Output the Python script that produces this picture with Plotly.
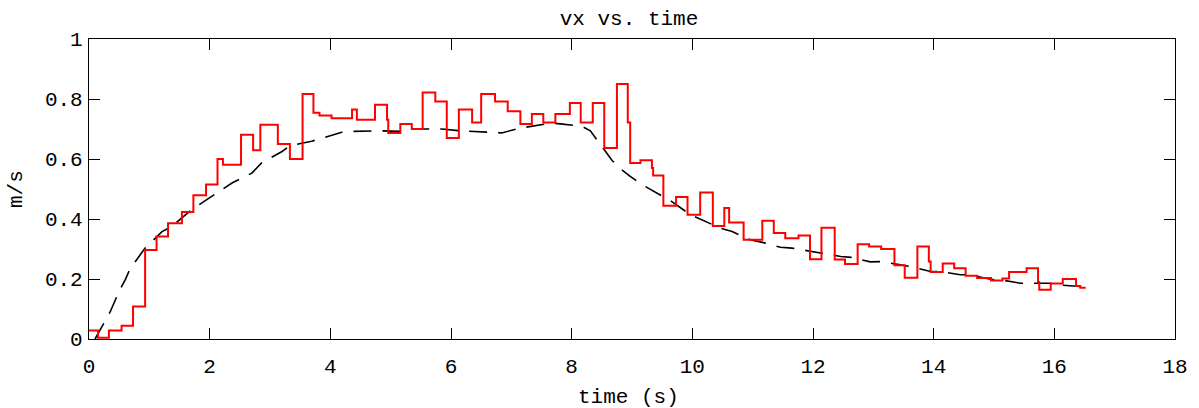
import plotly.graph_objects as go

# Measured velocity (step plot): times at which each step starts, and its value
meas_t = [0.00, 0.15, 0.33, 0.54, 0.73, 0.93, 1.12, 1.31, 1.54, 1.73, 1.94, 2.13, 2.22,
          2.52, 2.72, 2.84, 3.13, 3.33, 3.54, 3.72, 3.82, 4.02, 4.36, 4.44, 4.74, 4.94,
          4.96, 5.16, 5.35, 5.53, 5.74, 5.93, 6.13, 6.35, 6.50, 6.73, 6.94, 7.15, 7.34,
          7.53, 7.73, 7.97, 8.15, 8.35, 8.54, 8.75, 8.93, 8.97, 9.14, 9.33, 9.35, 9.52,
          9.73, 9.92, 10.13, 10.34, 10.53, 10.61, 10.85, 11.16, 11.35, 11.54, 11.76,
          11.95, 12.14, 12.36, 12.53, 12.74, 12.93, 13.13, 13.35, 13.52, 13.73, 13.92,
          13.95, 14.15, 14.34, 14.53, 14.72, 14.95, 15.14, 15.25, 15.54, 15.73, 15.75,
          15.94, 16.14, 16.36, 16.43, 16.52]
meas_v = [0.028, 0.004, 0.028, 0.044, 0.108, 0.297, 0.342, 0.386, 0.423, 0.479, 0.515,
          0.600, 0.581, 0.681, 0.629, 0.714, 0.650, 0.600, 0.817, 0.754, 0.745, 0.736,
          0.765, 0.731, 0.781, 0.731, 0.687, 0.717, 0.700, 0.822, 0.792, 0.670, 0.765,
          0.722, 0.817, 0.792, 0.759, 0.717, 0.750, 0.722, 0.750, 0.787, 0.722, 0.787,
          0.637, 0.850, 0.722, 0.587, 0.596, 0.570, 0.545, 0.444, 0.473, 0.414, 0.488,
          0.377, 0.437, 0.388, 0.331, 0.394, 0.353, 0.336, 0.345, 0.266, 0.371, 0.265,
          0.250, 0.316, 0.308, 0.300, 0.246, 0.204, 0.308, 0.258, 0.223, 0.252, 0.236,
          0.211, 0.203, 0.195, 0.202, 0.223, 0.236, 0.190, 0.164, 0.185, 0.200, 0.177,
          0.171, 0.171]

# Model velocity (dashed curve)
model_t = [0.10, 0.29, 0.35, 0.51, 0.60, 0.68, 0.79, 0.93, 1.21, 1.37, 1.70, 1.87, 2.20,
           2.37, 2.70, 2.86, 3.20, 3.33, 3.69, 3.86, 4.19, 4.36, 4.69, 4.85, 5.16, 5.35,
           5.68, 5.85, 6.15, 6.35, 6.65, 6.84, 7.15, 7.34, 7.67, 7.81, 8.17, 8.31, 8.53,
           8.67, 8.83, 8.97, 9.17, 9.50, 9.66, 9.97, 10.16, 10.46, 10.66, 10.96, 11.16,
           11.46, 11.65, 11.96, 12.15, 12.46, 12.65, 12.95, 13.12, 13.45, 13.62, 13.95,
           14.11, 14.44, 14.61, 14.94, 15.11, 15.44, 15.61, 15.94, 16.10, 16.43]
model_v = [0.000, 0.066, 0.090, 0.164, 0.197, 0.234, 0.266, 0.303, 0.358, 0.375, 0.431,
           0.453, 0.497, 0.520, 0.553, 0.587, 0.625, 0.644, 0.659, 0.670, 0.689, 0.692,
           0.694, 0.694, 0.692, 0.700, 0.700, 0.700, 0.694, 0.692, 0.687, 0.687, 0.703,
           0.709, 0.720, 0.717, 0.709, 0.694, 0.631, 0.595, 0.564, 0.542, 0.514, 0.477,
           0.458, 0.414, 0.397, 0.370, 0.358, 0.331, 0.322, 0.306, 0.303, 0.291, 0.286,
           0.275, 0.272, 0.257, 0.258, 0.247, 0.241, 0.225, 0.225, 0.214, 0.214, 0.199,
           0.197, 0.186, 0.186, 0.186, 0.180, 0.175]

x_ticks = [0, 2, 4, 6, 8, 10, 12, 14, 16, 18]
y_ticks = [0, 0.2, 0.4, 0.6, 0.8, 1]

FONT = "Liberation Mono"

fig = go.Figure()
fig.add_trace(go.Scatter(x=model_t, y=model_v, mode="lines",
                         line=dict(color="black", width=1.6, dash="18px,11px"),
                         showlegend=False))
fig.add_trace(go.Scatter(x=meas_t, y=meas_v, mode="lines", line_shape="hv",
                         line=dict(color="#ff0000", width=2),
                         showlegend=False))

axis_common = dict(showgrid=False, zeroline=False, showline=True, linecolor="black",
                   linewidth=1.2, mirror="ticks", ticks="inside", ticklen=11,
                   tickcolor="black", tickwidth=1.2, automargin=False,
                   tickfont=dict(family=FONT, size=21, color="black"))

fig.update_xaxes(range=[0, 18], tickvals=x_ticks, ticklabelstandoff=8, **axis_common)
fig.update_yaxes(range=[0, 1], tickvals=y_ticks, ticklabelstandoff=1, **axis_common)

fig.update_layout(
    width=1199, height=408,
    margin=dict(l=89, r=24, t=39, b=69),
    plot_bgcolor="white", paper_bgcolor="white",
    title=dict(text="vx vs. time", x=629 / 1199, xanchor="center", y=1 - 18 / 408,
               yanchor="middle", yref="container",
               font=dict(family=FONT, size=21, color="black")),
    annotations=[
        dict(text="time (s)", xref="paper", yref="paper", x=0.497, y=0,
             yshift=-58, xanchor="center", yanchor="middle", showarrow=False,
             font=dict(family=FONT, size=21, color="black")),
        dict(text="m/s", xref="paper", yref="paper", x=0, xshift=-73, y=0.5,
             xanchor="center", yanchor="middle", textangle=-90, showarrow=False,
             font=dict(family=FONT, size=21, color="black")),
    ],
)

fig.write_html("out.html", config={"displayModeBar": False},
               post_script="document.body.style.margin='0';document.body.style.overflow='hidden';")
